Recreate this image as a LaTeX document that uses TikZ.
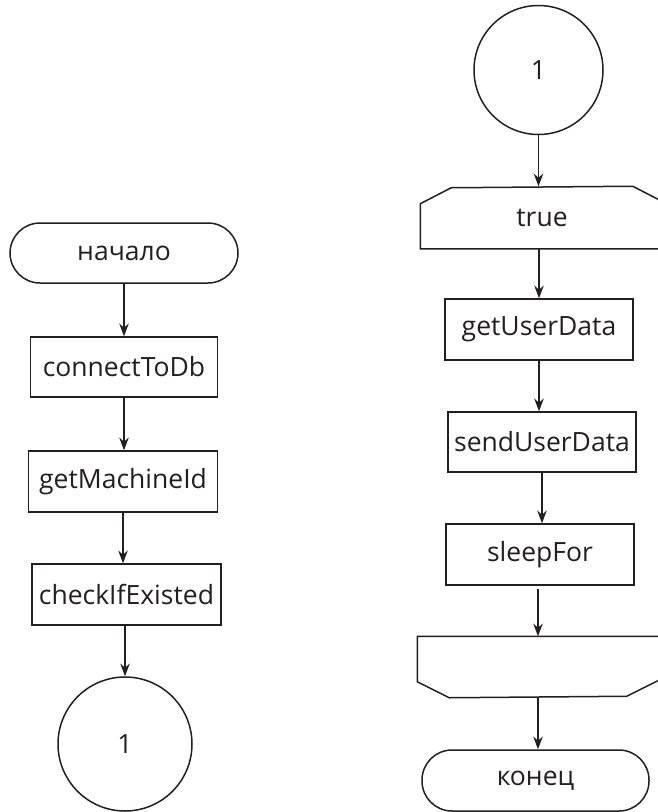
\documentclass[tikz,border=0pt]{standalone}
\usepackage{fontspec}
\setmainfont{Open Sans}
\usetikzlibrary{arrows.meta}
\definecolor{ink}{HTML}{231F20}
\begin{document}
\begin{tikzpicture}[x=1pt,y=1pt, line width=1.5pt, text=ink,
  font=\fontsize{26.5}{30}\selectfont,
  box/.style={draw=ink, rectangle, inner sep=0pt},
  term/.style={draw=ink, rectangle, rounded corners=30pt, inner sep=0pt},
  conn/.style={draw=ink, circle, inner sep=0pt},
  lim/.style={inner sep=0pt},
  flow/.style={draw=ink, -{Stealth[scale=1.3]}}]
\useasboundingbox (0,0) rectangle (657,-812);
% left column
\node[term, minimum width=228pt, minimum height=60pt] (start) at (124,-253) {начало};
\node[box, minimum width=187pt, minimum height=60pt] (c1) at (124,-367) {connectToDb};
\node[box, minimum width=189pt, minimum height=61pt] (c2) at (123,-481.5) {getMachineId};
\node[box, minimum width=189pt, minimum height=61pt] (c3) at (126.5,-594.5) {checkIfExisted};
\node[conn, minimum size=134pt] (k1) at (125,-744) {1};
% right column
\node[conn, minimum size=129pt] (k2) at (538.5,-70) {1};
\node[lim, minimum width=242pt, minimum height=61pt] (lb) at (542,-217.5) {true};
\draw[ink] (lb.south west) -- ++(0,45) -- ++(31,16) -- ([xshift=-31pt]lb.north east)
      -- ++(31,-16) -- (lb.south east) -- cycle;
\node[box, minimum width=188pt, minimum height=61pt] (u1) at (539,-329.5) {getUserData};
\node[box, minimum width=188pt, minimum height=60pt] (u2) at (542,-442) {sendUserData};
\node[box, minimum width=188pt, minimum height=61pt] (u3) at (540,-554.5) {sleepFor};
\node[lim, minimum width=240pt, minimum height=60pt] (le) at (538,-667) {};
\draw[ink] (le.north west) -- (le.north east) -- ++(0,-44) -- ++(-32,-16)
      -- ([xshift=32pt]le.south west) -- ++(-32,16) -- cycle;
\node[term, minimum width=227pt, minimum height=61pt] (fin) at (535.5,-780.5) {конец};
% connectors
\draw[flow] (start.south) -- (c1.north);
\draw[flow] (c1.south) -- (c1.south |- c2.north);
\draw[flow] (c2.south) -- (c2.south |- c3.north);
\draw[flow] (c3.south -| k1.north) -- (k1.north);
\draw[flow] (k2.south) -- (k2.south |- lb.north);
\draw[flow] (u1.north |- lb.south) -- (u1.north);
\draw[flow] (u1.south) -- (u1.south |- u2.north);
\draw[flow] (u2.south) -- (u2.south |- u3.north);
\draw[flow, shorten <=3pt] (le.north |- u3.south) -- (le.north);
\draw[flow] (le.south) -- (le.south |- fin.north);
\end{tikzpicture}
\end{document}
